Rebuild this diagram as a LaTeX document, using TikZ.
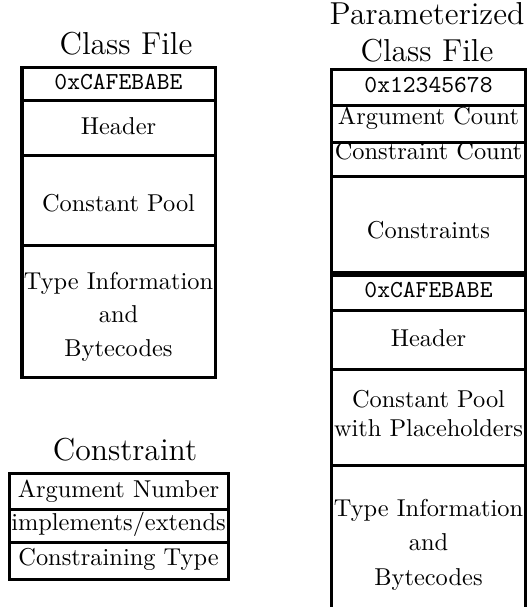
\documentclass[tikz,border=0pt]{standalone}
\begin{document}
\begin{tikzpicture}[x=0.4098pt,y=-0.4098pt,
  box/.style={line width=1.23pt},
  lbl/.style={anchor=base,inner sep=0pt,font=\normalsize},
  mono/.style={anchor=base,inner sep=0pt,font=\ttfamily},
  ttl/.style={anchor=base,inner sep=0pt,font=\fontsize{13}{15.5}\selectfont}]
\useasboundingbox (0,0) rectangle (527,607);
% ---------- Class File ----------
\node[ttl] (cftitle) at (126,55) {Class File};
\draw[box] (22,67.5) rectangle (215,377);
\draw[box] (22,100.5) -- (215,100.5) (22,155.5) -- (215,155.5) (22,245.5) -- (215,245.5);
\node[mono] (cfmagic) at (118.5,90) {0xCAFEBABE};
\node[lbl] (cfheader) at (118.5,135) {Header};
\node[lbl] (cfpool) at (118.5,212) {Constant Pool};
\node[lbl] (cftype1) at (118.5,289) {Type Information};
\node[lbl] (cftype2) at (118.5,322) {and};
\node[lbl] (cftype3) at (118.5,356) {Bytecodes};
% ---------- Constraint ----------
\node[ttl] (ctitle) at (125,460) {Constraint};
\draw[box] (9.5,473) rectangle (228.5,579);
\draw[box] (9.5,509.5) -- (228.5,509.5) (9.5,542) -- (228.5,542);
\node[lbl] (cargnum) at (118.5,497) {Argument Number};
\node[lbl] (cimpl) at (118.5,530) {implements/extends};
\node[lbl] (ctype) at (118.5,565) {Constraining Type};
% ---------- Parameterized Class File ----------
\node[ttl] (ptitle1) at (427,25) {Parameterized};
\node[ttl] (ptitle2) at (427,62) {Class File};
\draw[box] (331.5,70) rectangle (525.5,272);
\draw[box] (331.5,106) -- (525.5,106) (331.5,142.5) -- (525.5,142.5) (331.5,177) -- (525.5,177);
\node[mono] (pmagic) at (428.5,93) {0x12345678};
\node[lbl] (pargc) at (428.5,125) {Argument Count};
\node[lbl] (pconc) at (428.5,160) {Constraint Count};
\node[lbl] (pcons) at (428.5,238) {Constraints};
\draw[box] (331.5,607) -- (331.5,275) -- (525.5,275) -- (525.5,607);
\draw[box] (331.5,310.5) -- (525.5,310.5) (331.5,369) -- (525.5,369) (331.5,465.5) -- (525.5,465.5);
\node[mono] (pcafe) at (428.5,297) {0xCAFEBABE};
\node[lbl] (pheader) at (428.5,346) {Header};
\node[lbl] (ppool1) at (428.5,407) {Constant Pool};
\node[lbl] (ppool2) at (428.5,436) {with Placeholders};
\node[lbl] (ptype1) at (428.5,516) {Type Information};
\node[lbl] (ptype2) at (428.5,550) {and};
\node[lbl] (ptype3) at (428.5,585) {Bytecodes};
\end{tikzpicture}
\end{document}
